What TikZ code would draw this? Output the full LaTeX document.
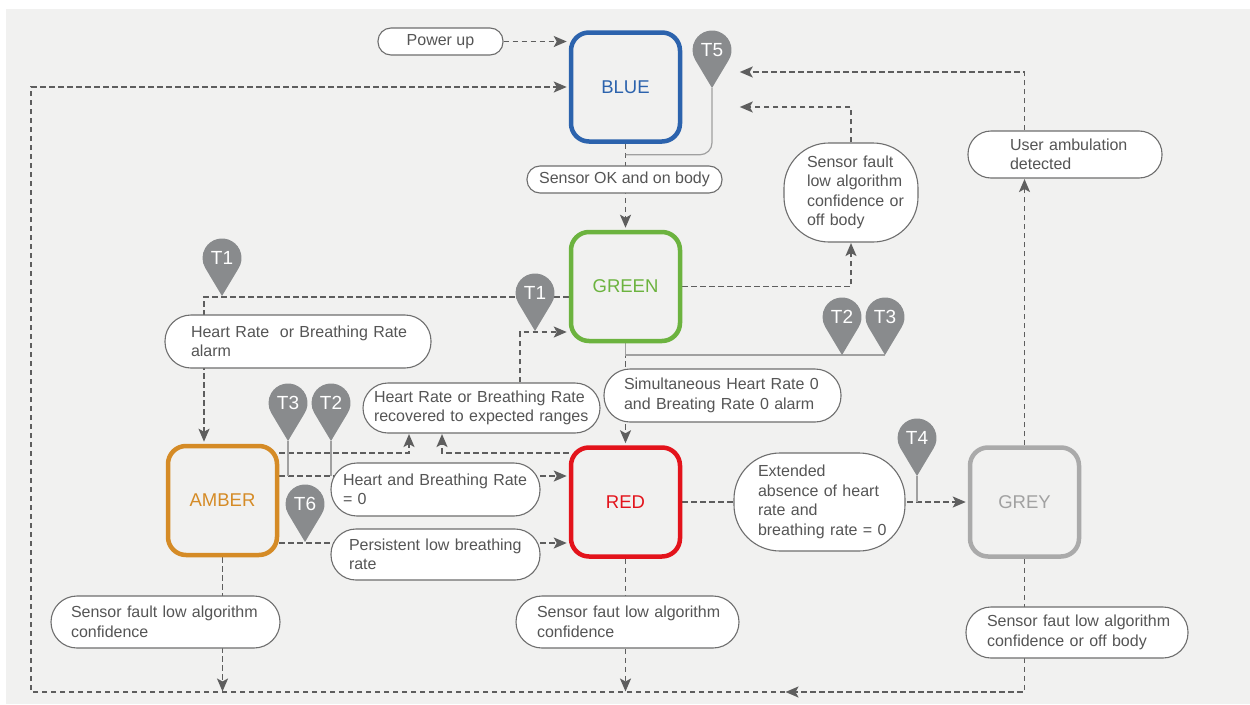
\documentclass[tikz,border=0pt]{standalone}
\usepackage{fontspec}
\setmainfont{Liberation Sans}
\usetikzlibrary{arrows.meta,calc}
\definecolor{bgc}{HTML}{F1F1F0}
\definecolor{linec}{HTML}{5E5E5E}
\definecolor{txtc}{HTML}{555555}
\definecolor{brdc}{HTML}{6E6E6E}
\definecolor{pinc}{HTML}{898B8D}
\definecolor{pinl}{HTML}{A0A0A0}
\definecolor{cblue}{HTML}{2C63AD}
\definecolor{cgreen}{HTML}{6CB33F}
\definecolor{camber}{HTML}{D58B26}
\definecolor{cred}{HTML}{E3131B}
\definecolor{cgrey}{HTML}{AAAAAA}
\pgfdeclarelayer{bglayer}
\pgfdeclarelayer{linelayer}
\pgfsetlayers{bglayer,linelayer,main}
\tikzset{
 state/.style={draw, line width=4.5pt, rounded corners=18pt, minimum width=109pt, minimum height=109pt, font=\fontsize{18.5}{22}\selectfont, inner sep=0pt},
 lbl/.style={draw=brdc, line width=1.1pt, fill=white, text=txtc, font=\fontsize{16}{19.5}\selectfont, align=left, inner ysep=0pt},
 dl/.style={draw=linec, line width=1.8pt, dash pattern=on 5.5pt off 3.5pt},
 arr/.style={-{Stealth[length=13pt,width=11pt,inset=3pt]}, shorten >=2pt},
 arrl/.style={-{Stealth[length=13pt,width=11pt,inset=3pt]}, shorten >=0.5pt},
 pinline/.style={draw=pinl, line width=1.2pt},
 pintext/.style={text=white, font=\fontsize{19}{22}\selectfont, inner sep=0pt},
}
\newcommand\pinmark[4]{%
  \fill[pinc] (#2,-#3) -- ++(16.74,28.0) arc[start angle=-30.87,end angle=210.87,radius=19.5] -- cycle;
  \node[pintext] (#1) at (#2,-#3+38) {#4};
  \coordinate (#1tip) at (#2,-#3);
}
\begin{document}
\begin{tikzpicture}[x=1pt,y=1pt]
\begin{pgfonlayer}{bglayer}
\fill[white] (0,0) rectangle (1250,-704);
\fill[bgc] (6,-9) rectangle (1250,-704);
\end{pgfonlayer}

% states
\node[state, draw=cblue, text=cblue] (blue) at (625.5,-87) {BLUE};
\node[state, draw=cgreen, text=cgreen] (green) at (625.5,-286.5) {GREEN};
\node[state, draw=camber, text=camber] (amber) at (222.5,-500.5) {AMBER};
\node[state, draw=cred, text=cred] (red) at (625.5,-502) {RED};
\node[state, draw=cgrey, text=cgrey!95!black] (grey) at (1024.5,-502) {GREY};

% labels
\node[lbl, align=center, minimum width=125pt, minimum height=27pt, inner xsep=0pt, rounded corners=13pt] (power) at (440.5,-41.5) {Power up};
\node[lbl, align=center, minimum width=195pt, minimum height=27pt, inner xsep=0pt, rounded corners=13pt] (sensorok) at (624.5,-179.5) {Sensor OK and on body};
\node[lbl, text width=88pt, inner xsep=23pt, minimum height=99pt, rounded corners=45pt] (sfault) at (851,-192.5) {\mbox{Sensor fault}\\\mbox{low algorithm}\\\mbox{confidence or}\\\mbox{off body}};
\node[lbl, text width=110pt, inner xsep=42pt, minimum height=47pt, rounded corners=23pt] (useramb) at (1065,-154.5) {\mbox{User ambulation}\\\mbox{detected}};
\node[lbl, text width=214pt, inner xsep=26pt, minimum height=53pt, rounded corners=26pt] (hralarm) at (298,-341.5) {\mbox{Heart Rate\ \ or Breathing Rate}\\\mbox{alarm}};
\node[lbl, text width=215pt, inner xsep=11pt, minimum height=50pt, rounded corners=25pt] (recovered) at (481.5,-408) {\mbox{Heart Rate or Breathing Rate}\\\mbox{recovered to expected ranges}};
\node[lbl, text width=197pt, inner xsep=20pt, minimum height=53pt, rounded corners=26pt] (simult) at (722.5,-395.5) {\mbox{Simultaneous Heart Rate 0}\\\mbox{and Breating Rate 0 alarm}};
\node[lbl, text width=185pt, inner xsep=12pt, minimum height=53pt, rounded corners=26pt] (hbzero) at (435.5,-489.5) {\mbox{Heart and Breathing Rate}\\\mbox{= 0}};
\node[lbl, text width=173pt, inner xsep=18pt, minimum height=51pt, rounded corners=25pt] (persist) at (435.5,-554.5) {\mbox{Persistent low breathing}\\\mbox{rate}};
\node[lbl, text width=123pt, inner xsep=24pt, minimum height=98pt, rounded corners=46pt] (extended) at (819.5,-502) {\mbox{Extended}\\\mbox{absence of heart}\\\mbox{rate and}\\\mbox{breathing rate = 0}};
\node[lbl, text width=189pt, inner xsep=20pt, minimum height=52pt, rounded corners=26pt] (sfamber) at (165.5,-622) {\mbox{Sensor fault low algorithm}\\\mbox{confidence}};
\node[lbl, text width=181pt, inner xsep=21pt, minimum height=52pt, rounded corners=26pt] (sfred) at (627.5,-622) {\mbox{Sensor faut low algorithm}\\\mbox{confidence}};
\node[lbl, text width=180pt, inner xsep=21pt, minimum height=51pt, rounded corners=25pt] (sfgrey) at (1077,-632.5) {\mbox{Sensor faut low algorithm}\\\mbox{confidence or off body}};

% pins
\pinmark{pT5}{712}{88}{T5}
\pinmark{pT1a}{222}{296}{T1}
\pinmark{pT1b}{535}{331}{T1}
\pinmark{pT2g}{842}{355}{T2}
\pinmark{pT3g}{885}{355}{T3}
\pinmark{pT3a}{288}{441}{T3}
\pinmark{pT2a}{331}{441}{T2}
\pinmark{pT6}{305}{542}{T6}
\pinmark{pT4}{917}{476}{T4}

% helper coordinates
\coordinate (hbl) at ([yshift=24.5pt]amber.east);
\coordinate (pl) at ([yshift=-42.5pt]amber.east);
\coordinate (ra) at ([yshift=47.5pt]amber.east);
\coordinate (rb) at ([yshift=49pt]red.west);
\coordinate (ga) at ([yshift=-10.5pt]green.west);
\coordinate (cbl) at (31,-692);
\coordinate (ctl) at (31,-87);
\coordinate (cmid) at (785,-692);

\begin{pgfonlayer}{linelayer}
\draw[dl,arr] (power.east) -- (power.east -| blue.west);
\draw[dl,arr] (blue.south) -- (green.north);
\draw[dl,arr] (green.south) -- (red.north);
\draw[dl,arr] (red.east) -- (grey.west);
\draw[dl,arr] (hbl) -- (hbl -| red.west);
\draw[dl,arr] (pl) -- (pl -| red.west);
\draw[dl,arrl] (ra) -| ([xshift=-72.5pt]recovered.south);
\draw[dl,arrl] (rb) -| ([xshift=-39.5pt]recovered.south);
\draw[dl,arr] ([xshift=38.5pt]recovered.north) |- ([yshift=-45.5pt]green.west);
\draw[dl,arr] (ga) -| ([xshift=-18.5pt]amber.north);
\draw[dl,arrl] (green.east) -| (sfault.south);
\draw[dl,arrl] (sfault.north) |- ([xshift=57pt,yshift=-20pt]blue.east);
\draw[dl,arrl] ([xshift=-40.5pt]useramb.north) |- ([xshift=57pt,yshift=15pt]blue.east);
\draw[dl,arrl] (grey.north) -- (grey.north |- useramb.south);
\draw[dl,arrl] (amber.south) -- (amber.south |- cbl);
\draw[dl,arrl] (red.south) -- (red.south |- cbl);
\draw[dl,arrl] (grey.south) |- (cmid);
\draw[dl,arr] (cmid) -- (cbl) -- (ctl) -- (ctl -| blue.west);
% pin leader lines
\draw[pinline, rounded corners=12pt] (pT5tip) |- ([yshift=-11pt]blue.south);
\draw[pinline] (green.south) |- (pT3gtip);
\draw[pinline] (pT3atip) -- (pT3atip |- hbl);
\draw[pinline] (pT2atip) -- (pT2atip |- hbl);
\draw[pinline] (pT4tip) -- (pT4tip |- red.east);
\end{pgfonlayer}
\end{tikzpicture}
\end{document}
